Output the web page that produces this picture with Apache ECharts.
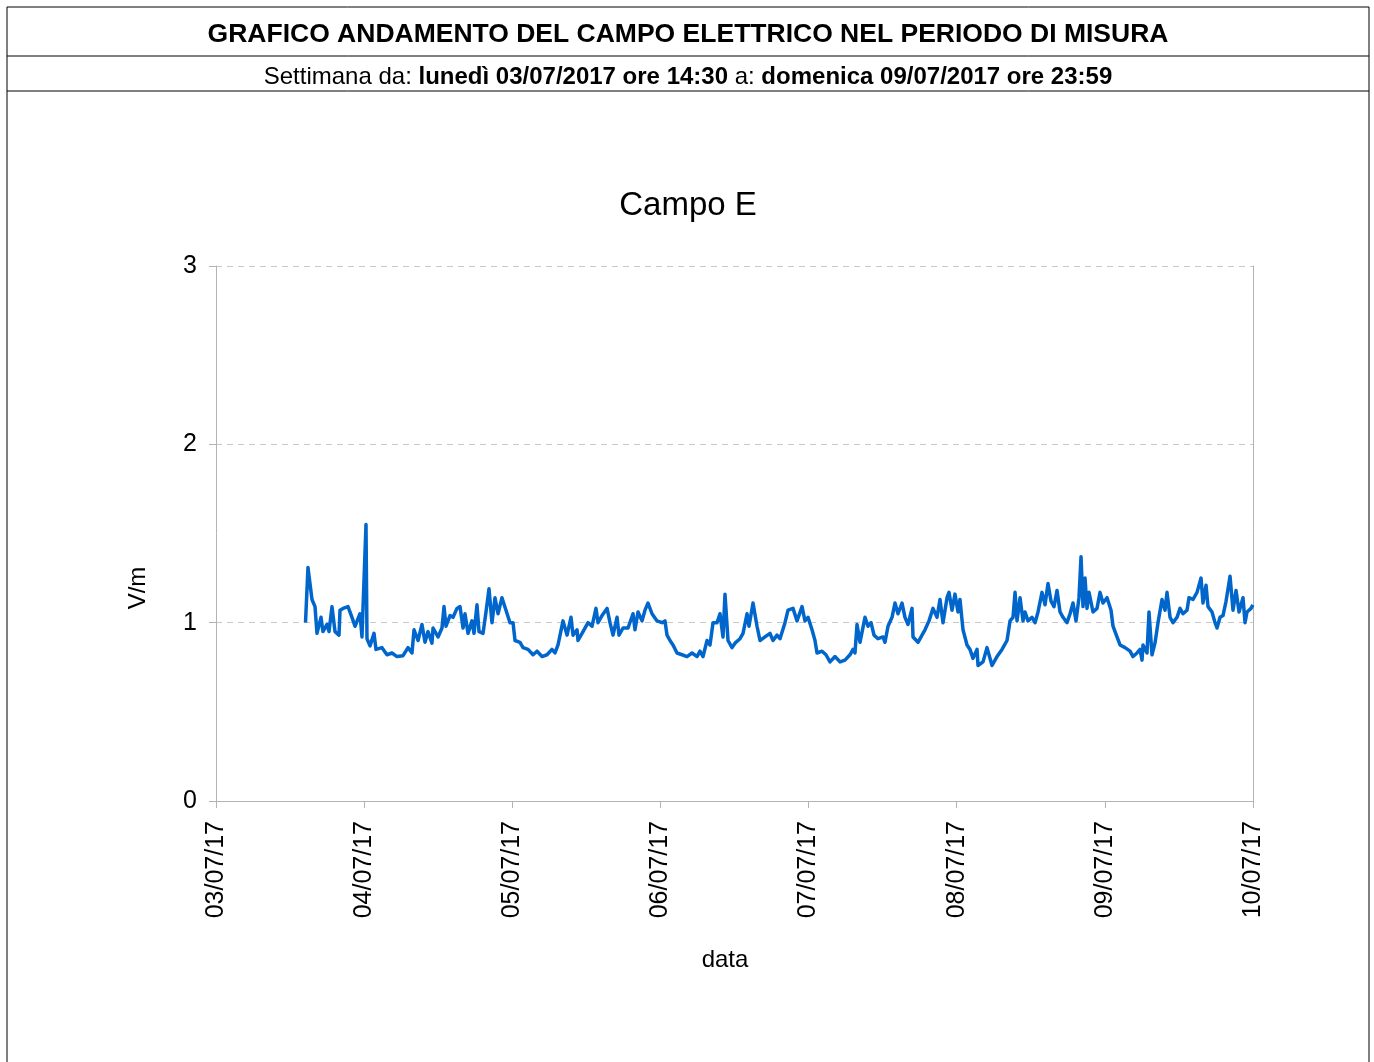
<!DOCTYPE html>
<html><head><meta charset="utf-8">
<script src="https://cdn.jsdelivr.net/npm/echarts@6/dist/echarts.min.js"></script>
<style>html,body{margin:0;padding:0;background:#fff}#c{width:1374px;height:1062px}</style>
</head><body><div id="c"></div>
<script>
// Hours elapsed since 03/07/2017 00:00 for each sample
const hours = [14.5,14.9,15.55,16.04,16.36,17.01,17.33,17.98,18.31,18.79,19.28,19.93,20.09,20.58,21.39,22.03,22.52,23.33,23.65,24.3,24.46,24.95,25.6,25.92,26.89,27.7,28.51,29.32,30.3,31.11,31.75,32.08,32.73,33.37,33.86,34.35,34.99,35.16,35.97,36.61,36.94,37.26,37.91,38.4,39.04,39.53,40.02,40.34,40.83,41.47,41.8,42.28,42.61,43.26,43.74,44.23,44.71,45.2,45.69,46.33,46.98,47.63,48.12,48.44,49.25,49.74,50.55,51.36,52.01,52.82,53.63,54.43,54.92,55.41,56.22,56.87,57.51,57.84,58.49,58.65,59.46,60.27,60.92,61.56,61.89,62.54,63.35,63.83,64.32,64.97,65.29,65.94,66.75,67.56,67.88,68.37,69.02,69.5,69.99,70.64,71.45,72.26,72.74,73.07,73.55,74.04,74.69,75.5,76.31,77.12,77.93,78.41,78.9,79.55,80.03,80.52,81.17,81.65,82.14,82.46,82.95,83.6,84.08,84.89,85.38,86.03,86.35,87.0,87.65,88.13,88.94,89.75,90.24,90.89,91.37,92.18,92.67,93.48,94.13,94.94,95.42,95.91,96.56,97.04,97.37,98.18,98.82,99.47,100.28,101.09,101.9,102.71,103.2,103.52,103.85,104.33,105.14,105.63,106.12,106.6,107.25,108.06,108.38,108.87,109.52,110.0,110.49,111.14,111.62,112.11,112.76,112.92,113.73,114.38,114.86,115.51,116.16,116.81,117.29,117.78,118.43,118.75,119.24,119.72,120.21,120.53,121.02,121.67,122.15,122.64,123.29,123.45,124.26,124.91,125.72,126.53,127.34,128.15,128.64,129.12,129.45,129.77,130.26,130.74,131.07,131.55,132.2,132.69,133.17,133.82,134.31,134.79,135.28,135.76,136.25,136.74,137.22,137.87,138.36,138.84,139.33,139.81,140.14,140.46,140.79,141.11,141.43,142.08,142.73,143.22,143.7,144.35,145.0,145.32,145.97,146.46,147.27,148.08,148.56,149.21,149.7,150.02,150.18,150.83,151.15,151.64,152.12,152.61,153.26,153.75,154.07,154.56,155.04,155.69,156.18,156.66,157.31,157.63,158.28,158.93,159.58,159.9,160.39,160.71,161.36,161.85,162.17,162.66,163.14,163.63,164.28,164.76,165.25,165.74,166.38,166.71,167.03,167.68,167.98];
// Electric field (V/m)
const campoE = [1.0,1.31,1.13,1.09,0.94,1.03,0.95,0.99,0.95,1.09,0.95,0.93,1.07,1.08,1.09,1.03,0.98,1.05,0.92,1.55,0.91,0.87,0.94,0.85,0.86,0.82,0.83,0.81,0.815,0.86,0.83,0.96,0.9,0.99,0.89,0.95,0.885,0.97,0.92,0.97,1.09,0.98,1.04,1.03,1.08,1.09,0.97,1.05,0.94,1.01,0.94,1.1,0.95,0.94,1.06,1.19,1.0,1.14,1.05,1.14,1.07,1.0,1.0,0.9,0.89,0.86,0.85,0.82,0.84,0.81,0.82,0.85,0.83,0.875,1.01,0.93,1.03,0.93,0.96,0.9,0.95,1.0,0.98,1.08,1.0,1.04,1.08,1.0,0.93,1.03,0.93,0.97,0.97,1.05,0.96,1.06,1.01,1.07,1.11,1.05,1.01,1.0,1.01,0.93,0.9,0.875,0.83,0.82,0.81,0.83,0.81,0.84,0.81,0.9,0.875,1.0,1.0,1.05,0.92,1.16,0.9,0.86,0.885,0.91,0.94,1.05,0.98,1.11,0.98,0.9,0.92,0.94,0.9,0.93,0.91,1.0,1.07,1.08,1.01,1.09,1.01,1.03,0.96,0.9,0.83,0.84,0.82,0.78,0.81,0.78,0.79,0.82,0.85,0.83,0.99,0.89,1.03,0.98,1.0,0.93,0.91,0.92,0.89,0.98,1.03,1.11,1.05,1.11,1.03,0.99,1.08,0.92,0.89,0.93,0.96,1.01,1.08,1.03,1.13,1.0,1.14,1.17,1.07,1.16,1.06,1.13,0.96,0.875,0.85,0.8,0.85,0.76,0.78,0.86,0.76,0.81,0.85,0.9,1.01,1.03,1.17,1.01,1.14,1.01,1.06,1.01,1.03,1.0,1.06,1.17,1.1,1.22,1.12,1.09,1.18,1.06,1.03,1.0,1.05,1.11,1.01,1.14,1.37,1.09,1.25,1.08,1.17,1.06,1.08,1.17,1.11,1.14,1.07,0.98,0.92,0.875,0.86,0.84,0.81,0.83,0.85,0.79,0.875,0.83,1.06,0.82,0.885,1.0,1.13,1.07,1.17,1.03,1.0,1.03,1.08,1.05,1.07,1.14,1.13,1.17,1.25,1.11,1.21,1.09,1.06,1.0,0.97,1.03,1.04,1.12,1.26,1.07,1.18,1.06,1.14,1.0,1.06,1.08,1.1];
const xTickLabels = ['03/07/17','04/07/17','05/07/17','06/07/17','07/07/17','08/07/17','09/07/17','10/07/17'];
const yTicks = [0,1,2,3];

const FONT = '"Liberation Sans", Arial, sans-serif';
const chart = echarts.init(document.getElementById('c'), null, {renderer:'canvas'});
const seriesData = hours.map((h,i)=>[h, campoE[i]]);
chart.setOption({
  backgroundColor:'#fff',
  animation:false,
  textStyle:{fontFamily:FONT},
  graphic:[
    {type:'rect', shape:{x:7,y:7,width:1362,height:1070}, style:{fill:'none',stroke:'#000',lineWidth:1}},
    {type:'line', shape:{x1:7,y1:56,x2:1369,y2:56}, style:{stroke:'#000',lineWidth:1}},
    {type:'line', shape:{x1:7,y1:91,x2:1369,y2:91}, style:{stroke:'#000',lineWidth:1}},
    {type:'text', x:688, y:35, style:{text:'GRAFICO ANDAMENTO DEL CAMPO ELETTRICO NEL PERIODO DI MISURA', font:'bold 26.5px '+FONT, fill:'#000', align:'center', verticalAlign:'middle'}},
    {type:'text', x:688, y:77, style:{
      text:'{n|Settimana da: }{b|lunedì 03/07/2017 ore 14:30}{n| a: }{b|domenica 09/07/2017 ore 23:59}',
      align:'center', verticalAlign:'middle',
      rich:{n:{font:'24px '+FONT, fill:'#000'}, b:{font:'bold 24px '+FONT, fill:'#000'}}
    }},
    {type:'text', x:688, y:206, style:{text:'Campo E', font:'33px '+FONT, fill:'#000', align:'center', verticalAlign:'middle'}},
    {type:'text', x:138, y:588, rotation:Math.PI/2, style:{text:'V/m', font:'24px '+FONT, fill:'#000', align:'center', verticalAlign:'middle'}},
    {type:'text', x:725, y:960, style:{text:'data', font:'24px '+FONT, fill:'#000', align:'center', verticalAlign:'middle'}}
  ],
  grid:{left:216, right:121, top:266, bottom:261, containLabel:false},
  xAxis:{
    type:'value', min:0, max:168, interval:24,
    axisLine:{show:true, lineStyle:{color:'#b3b3b3', width:1}},
    axisTick:{show:true, length:7, lineStyle:{color:'#b3b3b3'}},
    splitLine:{show:false},
    axisLabel:{rotate:90, fontSize:25, color:'#000', margin:20, fontFamily:FONT,
      formatter:(v)=>xTickLabels[Math.round(v/24)]}
  },
  yAxis:[{
    type:'value', min:yTicks[0], max:yTicks[yTicks.length-1], interval:1,
    axisLine:{show:true, lineStyle:{color:'#b3b3b3', width:1}},
    axisTick:{show:true, length:7, lineStyle:{color:'#b3b3b3'}},
    splitLine:{show:true, lineStyle:{color:'#c8c8c8', type:[6,5], width:1}},
    axisLabel:{fontSize:25, color:'#000', margin:19, fontFamily:FONT, padding:[3,0,0,0]}
  },{
    type:'value', position:'right', min:0, max:3, interval:1,
    axisLine:{show:true, lineStyle:{color:'#b3b3b3', width:1}},
    axisTick:{show:false}, axisLabel:{show:false}, splitLine:{show:false}
  }],
  series:[{
    type:'line', data:seriesData, showSymbol:false, symbol:'none',
    lineStyle:{color:'#0066cc', width:3.5, join:'round'}, itemStyle:{color:'#0066cc'}
  }]
});
</script></body></html>
